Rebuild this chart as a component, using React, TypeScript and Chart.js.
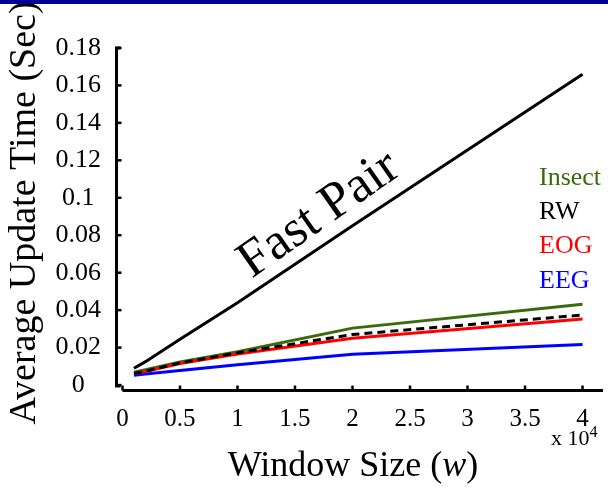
import React, { useEffect, useRef } from 'react';
import { Chart, registerables } from 'chart.js';

Chart.register(...registerables);

// Window size (x 10^4)
const windowSizes = [0.1, 0.2, 0.5, 1, 2, 4];

// Average update time (sec)
const fastPair = [0.009, 0.0125, 0.0245, 0.044, 0.085, 0.166];
const insect = [0.0069, 0.0082, 0.0123, 0.0178, 0.0304, 0.0432];
const rw = [0.0062, 0.0074, 0.0118, 0.0172, 0.027, 0.0374];
const eog = [0.006, 0.0072, 0.0115, 0.0166, 0.025, 0.0353];
const eeg = [0.0053, 0.0059, 0.0078, 0.0108, 0.0164, 0.0217];

const yTickValues = [0, 0.02, 0.04, 0.06, 0.08, 0.1, 0.12, 0.14, 0.16, 0.18];
const yTickLabels = ['0', '0.02', '0.04', '0.06', '0.08', '0.1', '0.12', '0.14', '0.16', '0.18'];
const xTickValues = [0, 0.5, 1, 1.5, 2, 2.5, 3, 3.5, 4];
const xTickLabels = ['0', '0.5', '1', '1.5', '2', '2.5', '3', '3.5', '4'];

const GREEN = '#3a6b0a';
const RED = '#ff0000';
const BLUE = '#0000ff';
const BLACK = '#000000';

const legendLabels = ['Insect', 'RW', 'EOG', 'EEG'];
const legendColors = [GREEN, BLACK, RED, BLUE];

const FONT = '"Liberation Serif", "Times New Roman", serif';

const decorPlugin = {
  id: 'decor',
  afterDraw(chart: any) {
    const { ctx, chartArea, scales } = chart;
    const xs = scales.x;
    const ys = scales.y;
    ctx.save();
    ctx.strokeStyle = BLACK;
    ctx.fillStyle = BLACK;

    // y axis (bracket style)
    const ax = chartArea.left + 1.5;
    const yTop = ys.getPixelForValue(0.18);
    const yBot = ys.getPixelForValue(0) + 1;
    ctx.lineWidth = 3;
    ctx.beginPath();
    ctx.moveTo(ax + 4, yTop);
    ctx.lineTo(ax, yTop);
    ctx.lineTo(ax, yBot);
    ctx.lineTo(ax + 4, yBot);
    ctx.stroke();
    ctx.lineWidth = 2.5;
    yTickValues.forEach((v) => {
      const p = ys.getPixelForValue(v);
      ctx.beginPath();
      ctx.moveTo(ax, p);
      ctx.lineTo(ax + 5, p);
      ctx.stroke();
    });

    // x axis
    const ay = chartArea.bottom - 1.5;
    ctx.lineWidth = 3;
    ctx.beginPath();
    ctx.moveTo(xs.getPixelForValue(0), ay);
    ctx.lineTo(chartArea.right, ay);
    ctx.stroke();
    ctx.lineWidth = 2.5;
    xTickValues.forEach((v) => {
      const p = xs.getPixelForValue(v);
      ctx.beginPath();
      ctx.moveTo(p, ay);
      ctx.lineTo(p, ay - 5);
      ctx.stroke();
    });

    // y title
    ctx.save();
    ctx.translate(35, 213);
    ctx.rotate(-Math.PI / 2);
    ctx.font = `38px ${FONT}`;
    ctx.textAlign = 'center';
    ctx.textBaseline = 'alphabetic';
    ctx.fillText('Average Update Time (Sec)', 0, 0);
    ctx.restore();

    // x title with italic w
    const parts = [
      { t: 'Window Size (', f: `36px ${FONT}` },
      { t: 'w', f: `italic 36px ${FONT}` },
      { t: ')', f: `36px ${FONT}` },
    ];
    let total = 0;
    parts.forEach((p) => {
      ctx.font = p.f;
      total += ctx.measureText(p.t).width;
    });
    let cx = 353 - total / 2;
    ctx.textAlign = 'left';
    ctx.textBaseline = 'alphabetic';
    parts.forEach((p) => {
      ctx.font = p.f;
      ctx.fillText(p.t, cx, 476);
      cx += ctx.measureText(p.t).width;
    });

    // x 10^4 multiplier
    ctx.font = `22px ${FONT}`;
    ctx.fillText('x 10', 551, 445);
    const w10 = ctx.measureText('x 10').width;
    ctx.font = `16px ${FONT}`;
    ctx.fillText('4', 551 + w10, 437);

    // Fast Pair annotation
    ctx.save();
    ctx.translate(xs.getPixelForValue(1.778), ys.getPixelForValue(0.0849));
    ctx.rotate((-35 * Math.PI) / 180);
    ctx.font = `52px ${FONT}`;
    ctx.textAlign = 'center';
    ctx.fillText('Fast Pair', 0, 0);
    ctx.restore();

    // Legend texts
    const baselines = [185, 219, 253, 288];
    ctx.font = `26px ${FONT}`;
    ctx.textAlign = 'left';
    legendLabels.forEach((lab, i) => {
      ctx.fillStyle = legendColors[i];
      ctx.fillText(lab, 539, baselines[i]);
    });

    ctx.restore();
  },
};

export default function App() {
  const canvasRef = useRef<HTMLCanvasElement | null>(null);

  useEffect(() => {
    if (!canvasRef.current) return;
    const mk = (data: number[]) => windowSizes.map((x, i) => ({ x, y: data[i] }));
    const chart = new Chart(canvasRef.current, {
      type: 'line',
      data: {
        datasets: [
          { label: 'RW', data: mk(rw), borderColor: BLACK, borderWidth: 3, borderDash: [8, 5], pointRadius: 0, tension: 0 },
          { label: 'EOG', data: mk(eog), borderColor: RED, borderWidth: 3, pointRadius: 0, tension: 0 },
          { label: 'Insect', data: mk(insect), borderColor: GREEN, borderWidth: 3, pointRadius: 0, tension: 0 },
          { label: 'EEG', data: mk(eeg), borderColor: BLUE, borderWidth: 3, pointRadius: 0, tension: 0 },
          { label: 'Fast Pair', data: mk(fastPair), borderColor: BLACK, borderWidth: 3, pointRadius: 0, tension: 0 },
        ],
      },
      options: {
        animation: false,
        responsive: false,
        devicePixelRatio: 1,
        layout: { padding: { top: 47, right: 5, left: 0, bottom: 0 } },
        plugins: { legend: { display: false }, tooltip: { enabled: false } },
        scales: {
          x: {
            type: 'linear',
            min: -0.065,
            max: 4.178,
            grid: { display: false, drawTicks: false },
            border: { display: false },
            afterFit: (s: any) => { s.height = 96; },
            afterBuildTicks: (s: any) => { s.ticks = xTickValues.map((v) => ({ value: v })); },
            ticks: {
              autoSkip: false,
              maxRotation: 0,
              padding: 12,
              color: BLACK,
              font: { family: FONT, size: 25 },
              callback: (v: any) => xTickLabels[xTickValues.indexOf(Number(v))] ?? '',
            },
          },
          y: {
            type: 'linear',
            min: -0.0037,
            max: 0.1805,
            grid: { display: false, drawTicks: false },
            border: { display: false },
            afterFit: (s: any) => { s.width = 115; },
            afterBuildTicks: (s: any) => { s.ticks = yTickValues.map((v) => ({ value: v })); },
            ticks: {
              autoSkip: false,
              crossAlign: 'center',
              padding: 14,
              color: BLACK,
              font: { family: FONT, size: 26 },
              callback: (v: any) => yTickLabels[yTickValues.indexOf(Number(v))] ?? '',
            },
          },
        },
      },
      plugins: [decorPlugin],
    });
    return () => chart.destroy();
  }, []);

  return (
    <div style={{ position: 'absolute', left: 0, top: 0, width: 608, height: 488, background: '#fff' }}>
      <canvas ref={canvasRef} width={608} height={488} style={{ display: 'block' }} />
      <div style={{ position: 'absolute', left: 0, top: 0, width: 608, height: 4, background: '#000099' }} />
    </div>
  );
}
